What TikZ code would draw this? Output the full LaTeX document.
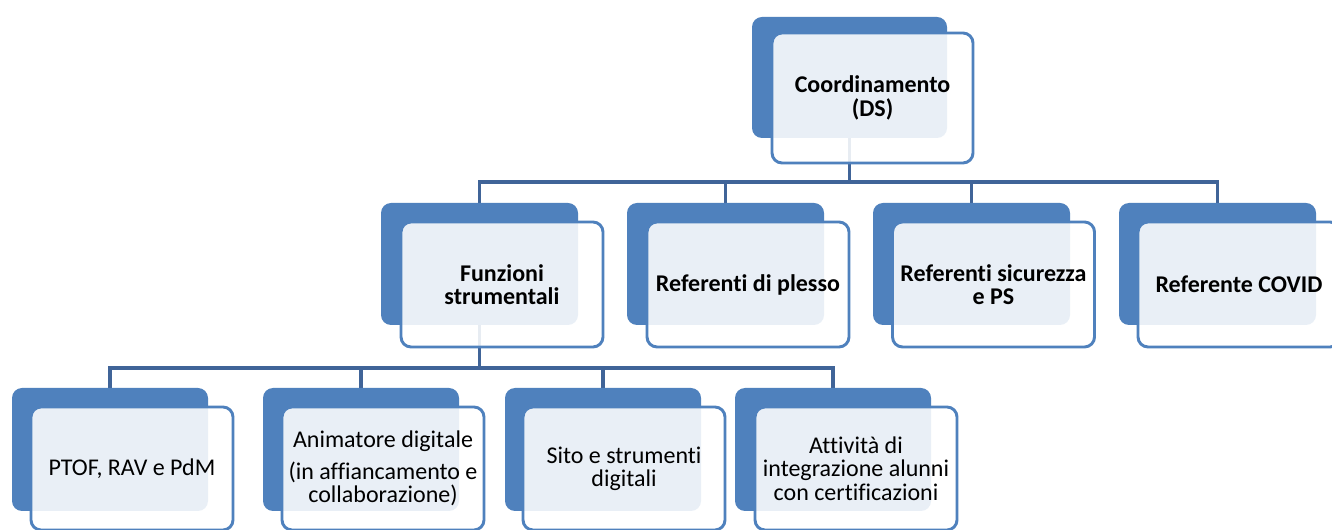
\documentclass[tikz,border=0pt]{standalone}
\usepackage{fontspec}
\setmainfont{Carlito}[RawFeature={-liga;-clig}]
\definecolor{bk}{RGB}{79,129,189}
\definecolor{ln}{RGB}{64,100,152}
\pgfdeclarelayer{bg}
\pgfsetlayers{bg,main}
\begin{document}
\begin{tikzpicture}[x=0.75pt,y=-0.75pt,
  back/.style={rectangle, rounded corners=7.5pt, fill=bk, inner sep=0pt},
  front/.style={rectangle, rounded corners=7.5pt, draw=bk, line width=2.2pt,
    fill=white, fill opacity=0.88, text opacity=1, inner sep=0pt, align=center,
    font=\fontsize{18}{17.5}\selectfont},
  lvA/.style={minimum width=146.25pt, minimum height=90.75pt},
  lvB/.style={minimum width=147.75pt, minimum height=91.5pt},
  lvC/.style={minimum width=147pt, minimum height=92.25pt},
  fA/.style={minimum width=150.75pt, minimum height=97.5pt, font=\fontsize{18}{17.5}\selectfont\bfseries},
  fB/.style={minimum width=151.5pt, minimum height=93.75pt, font=\fontsize{18}{17.5}\selectfont\bfseries},
  fC/.style={minimum width=151.5pt, minimum height=92.25pt},
  conn/.style={draw=ln, line width=2.6pt, line cap=rect}]
\useasboundingbox (0,0) rectangle (1332,530);
\clip (0,0) rectangle (1332,530);

% back rectangles
\node[back, lvA] (b0) at (849.5,77.5) {};
\node[back, lvB] (b1) at (479.5,264) {};
\node[back, lvB] (b2) at (725.5,264) {};
\node[back, lvB] (b3) at (971.5,264) {};
\node[back, lvB] (b4) at (1217.5,264) {};
\node[back, lvC] (c1) at (110,449.5) {};
\node[back, lvC] (c2) at (361,449.5) {};
\node[back, lvC] (c3) at (603,449.5) {};
\node[back, lvC] (c4) at (833,449.5) {};

% front boxes
\node[front, fA] (f0) at (872.5,98) {Coordinamento\\(DS)};
\node[front, fB] (g1) at (502,284.5) {Funzioni\\strumentali};
\node[front, fB] (g2) at (748,284.5) {Referenti di plesso};
\node[front, fB] (g3) at (993.5,284.5) {Referenti sicurezza\\e PS};
\node[front, fB] (g4) at (1239,284.5) {Referente COVID};
\node[front, fC] (h1) at (132,468.5) {PTOF, RAV e PdM};
\node[front, fC] (h2) at (383,468.5) {Animatore digitale\\[6pt](in affiancamento e\\collaborazione)};
\node[front, fC] (h3) at (624,468.5) {Sito e strumenti\\digitali};
\node[front, fC] (h4) at (856,468.5) {Attività di\\integrazione alunni\\con certificazioni};

\coordinate (bus1) at (0,182);
\coordinate (bus2) at (0,368);

\begin{pgfonlayer}{bg}
  \fill[white] (0,0) rectangle (1332,530);
  \draw[conn] (b0.center) -- (b0.center |- bus1);
  \draw[conn] (b1.center |- bus1) -- (b4.center |- bus1);
  \foreach \n in {b1,b2,b3,b4} {\draw[conn] (\n.center |- bus1) -- (\n.center);}
  \draw[conn] (b1.center) -- (b1.center |- bus2);
  \draw[conn] (c1.center |- bus2) -- (c4.center |- bus2);
  \foreach \n in {c1,c2,c3,c4} {\draw[conn] (\n.center |- bus2) -- (\n.center);}
\end{pgfonlayer}
\end{tikzpicture}
\end{document}
